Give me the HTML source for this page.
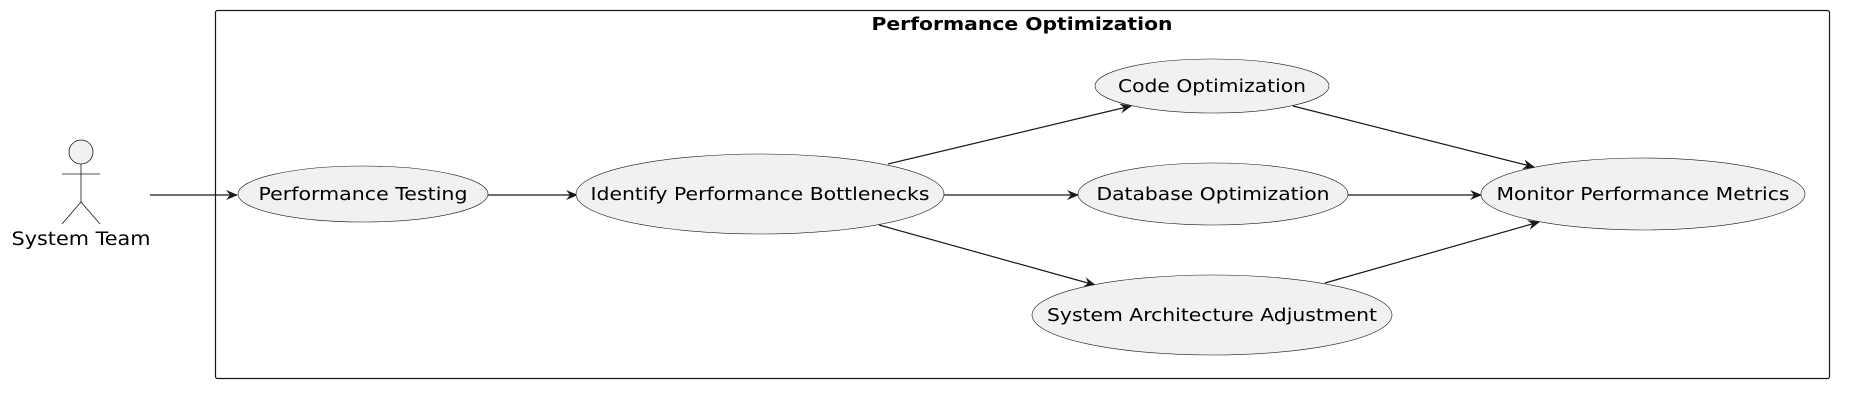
<!DOCTYPE html>
<html><head><meta charset="utf-8"><style>
html,body{margin:0;padding:0;background:#fff;}
svg{display:block;}
text{font-family:"DejaVu Sans","Liberation Sans",sans-serif;fill:#000;}
</style></head><body>
<svg width="1872" height="405" viewBox="0 0 1872 405" xmlns="http://www.w3.org/2000/svg">
<defs>
<marker id="a" viewBox="0 0 12 10" refX="11" refY="5" markerWidth="12" markerHeight="10" markerUnits="userSpaceOnUse" orient="auto">
<path d="M0,0 L12,5 L0,10 L4,5 Z" fill="#181818"/>
</marker>
</defs>
<rect x="215.5" y="10.5" width="1614" height="368" rx="2" fill="#fff" stroke="#181818" stroke-width="1.2"/>
<text x="1022" y="30" font-size="18" font-weight="bold" text-anchor="middle" textLength="301" lengthAdjust="spacingAndGlyphs">Performance Optimization</text>

<!-- actor -->
<g stroke="#181818" stroke-width="0.8" fill="none">
<ellipse cx="81" cy="152" rx="12" ry="12" fill="#f1f1f1"/>
<line x1="81" y1="164" x2="81" y2="202"/>
<line x1="62" y1="174" x2="100" y2="174"/>
<line x1="81" y1="202" x2="62" y2="224"/>
<line x1="81" y1="202" x2="100" y2="224"/>
</g>
<text x="81" y="245" font-size="19" text-anchor="middle" textLength="139" lengthAdjust="spacingAndGlyphs">System Team</text>

<!-- edges -->
<g stroke="#181818" stroke-width="1.2" fill="none" marker-end="url(#a)">
<line x1="150" y1="195" x2="237" y2="195"/>
<line x1="488" y1="195" x2="577" y2="195"/>
<line x1="888" y1="164" x2="1131" y2="106"/>
<line x1="944" y1="195" x2="1078" y2="195"/>
<line x1="879" y1="225" x2="1095" y2="285"/>
<line x1="1293" y1="106" x2="1534" y2="167"/>
<line x1="1348" y1="195" x2="1481" y2="195"/>
<line x1="1325" y1="283" x2="1539" y2="222"/>
</g>

<!-- use cases -->
<g fill="#f1f1f1" stroke="#181818" stroke-width="0.6">
<ellipse cx="363" cy="194" rx="125" ry="28"/>
<ellipse cx="760" cy="194" rx="184" ry="40"/>
<ellipse cx="1212" cy="86" rx="117" ry="27"/>
<ellipse cx="1213" cy="194" rx="135" ry="31"/>
<ellipse cx="1212" cy="315" rx="180" ry="40"/>
<ellipse cx="1643" cy="194" rx="162" ry="36"/>
</g>
<g font-size="18" text-anchor="middle">
<text x="363" y="200" textLength="209" lengthAdjust="spacingAndGlyphs">Performance Testing</text>
<text x="760" y="200" textLength="339" lengthAdjust="spacingAndGlyphs">Identify Performance Bottlenecks</text>
<text x="1212" y="92" textLength="188" lengthAdjust="spacingAndGlyphs">Code Optimization</text>
<text x="1213" y="200" textLength="233" lengthAdjust="spacingAndGlyphs">Database Optimization</text>
<text x="1212" y="321" textLength="330" lengthAdjust="spacingAndGlyphs">System Architecture Adjustment</text>
<text x="1643" y="200" textLength="293" lengthAdjust="spacingAndGlyphs">Monitor Performance Metrics</text>
</g>
</svg>
</body></html>
